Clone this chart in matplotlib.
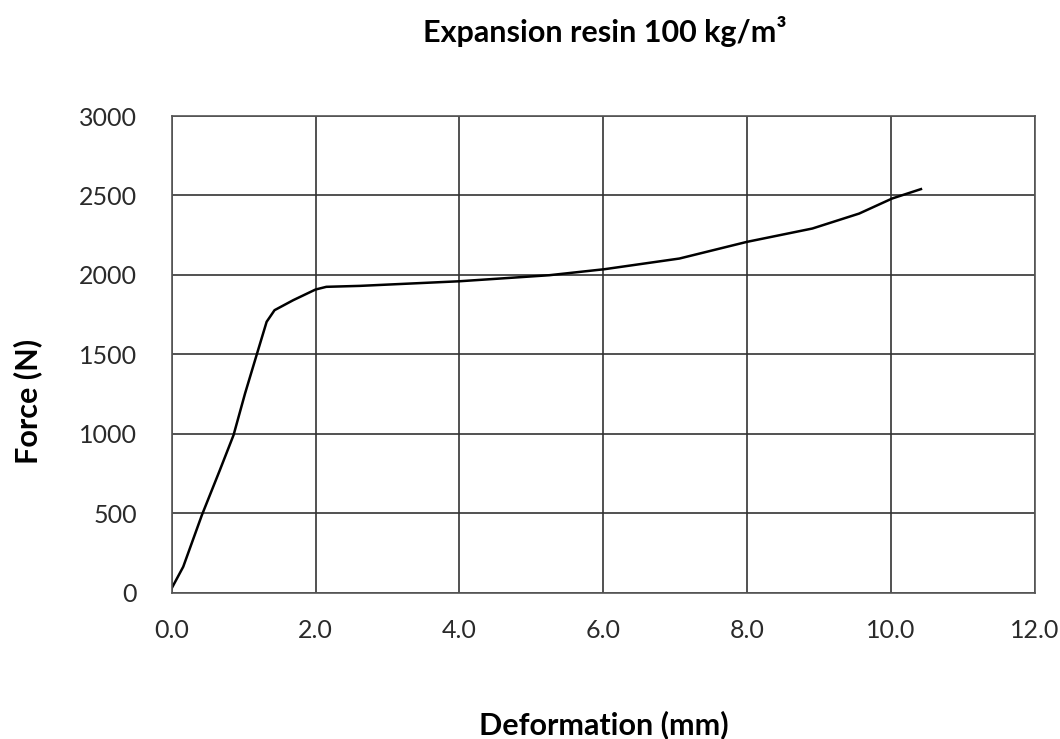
import numpy as np
import matplotlib
matplotlib.use("Agg")
import matplotlib.pyplot as plt

plt.rcParams['font.family'] = ['Lato', 'DejaVu Sans']

# Data
deformation = [0.0, 0.16, 0.42, 0.67, 0.86, 1.02, 1.18, 1.32, 1.43, 1.69, 2.0, 2.15,
               2.62, 4.0, 5.25, 6.02, 7.06, 8.0, 8.91, 9.56, 10.02, 10.42]
force = [28, 163, 489, 772, 992, 1254, 1495, 1705, 1778, 1841, 1908, 1925,
         1931, 1960, 1998, 2036, 2103, 2208, 2292, 2386, 2481, 2540]

xticks = [0, 2, 4, 6, 8, 10, 12]
xticklabels = ['0.0', '2.0', '4.0', '6.0', '8.0', '10.0', '12.0']
yticks = [0, 500, 1000, 1500, 2000, 2500, 3000]

fig = plt.figure(figsize=(10.6, 7.39), dpi=100)
ax = fig.add_axes([0.162, 0.198, 0.814, 0.645])

ax.plot(deformation, force, color='black', linewidth=1.8)

ax.set_xlim(0, 12)
ax.set_ylim(0, 3000)
ax.set_xticks(xticks)
ax.set_xticklabels(xticklabels)
ax.set_yticks(yticks)
ax.tick_params(length=0, labelsize=18, colors='#2a2a2a')
ax.tick_params(axis='x', pad=19)
ax.tick_params(axis='y', pad=25)
ax.grid(True, color='#333333', linewidth=1.2)
for s in ax.spines.values():
    s.set_color('#555555')
    s.set_linewidth(1.2)

fig.text(0.571, 0.958, 'Expansion resin 100 kg/m³', ha='center', va='center',
         fontsize=22, fontweight='bold')
fig.text(0.57, 0.02, 'Deformation (mm)', ha='center', va='center',
         fontsize=22, fontweight='bold')
fig.text(0.026, 0.457, 'Force (N)', ha='center', va='center', rotation=90,
         fontsize=22, fontweight='bold')

fig.savefig('out.png', dpi=100)
